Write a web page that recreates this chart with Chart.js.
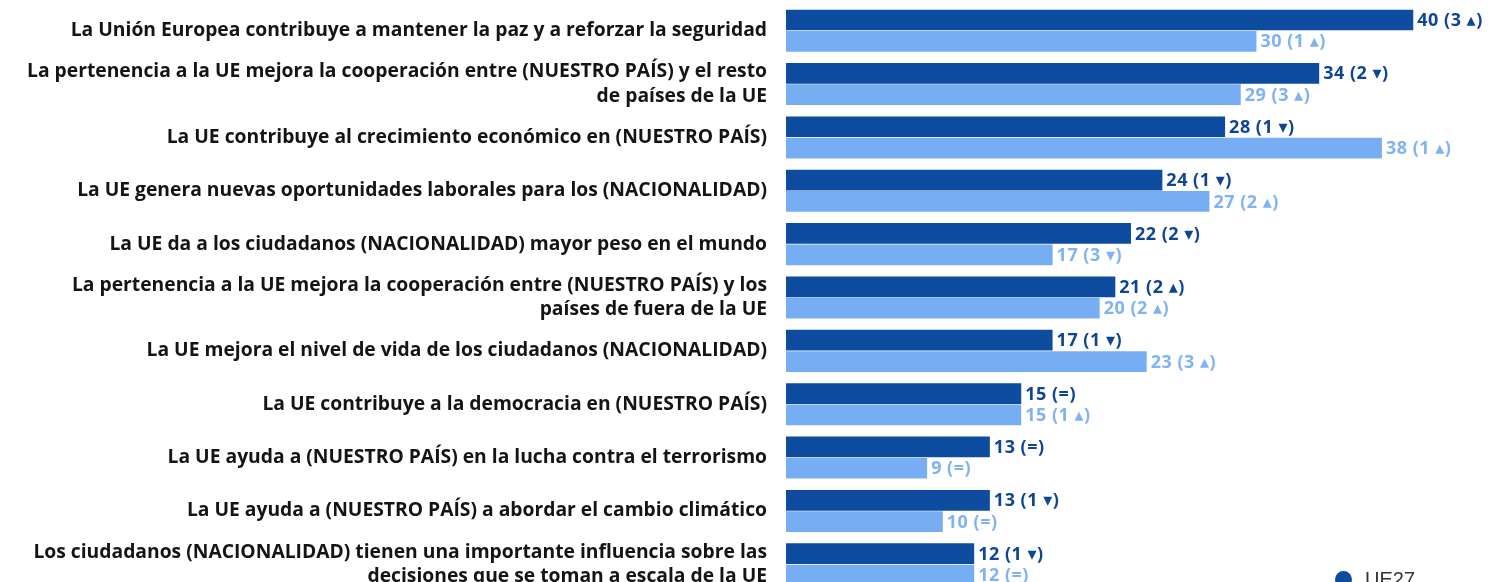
<!DOCTYPE html>
<html lang="es">
<head>
    <meta charset="UTF-8">
    <title>Beneficios de la pertenencia a la UE</title>
    <script src="https://cdn.jsdelivr.net/npm/chart.js"></script>
    <style>
        html, body {
            margin: 0;
            padding: 0;
            background: #fff;
            overflow: hidden;
        }
        .chart-container {
            position: relative;
            width: 1498px;
            height: 640px;
        }
        .legend {
            position: absolute;
            left: 1335px;
            top: 566px;
            font-family: "Liberation Sans", Arial, sans-serif;
            font-size: 20px;
            color: #333;
        }
        .legend-item {
            display: flex;
            align-items: center;
            height: 26px;
        }
        .legend-dot {
            width: 17px;
            height: 17px;
            border-radius: 50%;
            margin-right: 13px;
        }
    </style>
</head>
<body>
    <div class="chart-container">
        <canvas id="chart"></canvas>
        <div class="legend" id="legend"></div>
    </div>

    <script>
        const categories = [
            'La Unión Europea contribuye a mantener la paz y a reforzar la seguridad',
            ['La pertenencia a la UE mejora la cooperación entre (NUESTRO PAÍS) y el resto', 'de países de la UE'],
            'La UE contribuye al crecimiento económico en (NUESTRO PAÍS)',
            'La UE genera nuevas oportunidades laborales para los (NACIONALIDAD)',
            'La UE da a los ciudadanos (NACIONALIDAD) mayor peso en el mundo',
            ['La pertenencia a la UE mejora la cooperación entre (NUESTRO PAÍS) y los', 'países de fuera de la UE'],
            'La UE mejora el nivel de vida de los ciudadanos (NACIONALIDAD)',
            'La UE contribuye a la democracia en (NUESTRO PAÍS)',
            'La UE ayuda a (NUESTRO PAÍS) en la lucha contra el terrorismo',
            'La UE ayuda a (NUESTRO PAÍS) a abordar el cambio climático',
            ['Los ciudadanos (NACIONALIDAD) tienen una importante influencia sobre las', 'decisiones que se toman a escala de la UE']
        ];

        const seriesNames = ['UE27', 'España'];
        const ue27Values = [40, 34, 28, 24, 22, 21, 17, 15, 13, 13, 12];
        const ue27Changes = ['3 ▴', '2 ▾', '1 ▾', '1 ▾', '2 ▾', '2 ▴', '1 ▾', '=', '=', '1 ▾', '1 ▾'];
        const esValues = [30, 29, 38, 27, 17, 20, 23, 15, 9, 10, 12];
        const esChanges = ['1 ▴', '3 ▴', '1 ▴', '2 ▴', '3 ▾', '2 ▴', '3 ▴', '1 ▴', '=', '=', '='];

        const barColors = ['#0d4c9f', '#77aef3'];
        const labelColors = ['#0f4592', '#80b3f2'];

        // value + change labels at the end of each bar
        const valueLabels = {
            id: 'valueLabels',
            afterDatasetsDraw(chart) {
                const ctx = chart.ctx;
                const changes = [ue27Changes, esChanges];
                ctx.save();
                ctx.font = 'bold 18px "Open Sans", "DejaVu Sans", sans-serif';
                ctx.letterSpacing = '0.5px';
                ctx.textBaseline = 'middle';
                ctx.textAlign = 'left';
                chart.data.datasets.forEach((ds, i) => {
                    const meta = chart.getDatasetMeta(i);
                    ctx.fillStyle = labelColors[i];
                    meta.data.forEach((bar, j) => {
                        const text = ds.data[j] + ' (' + changes[i][j] + ')';
                        ctx.fillText(text, bar.x + 4, bar.y + 1);
                    });
                });
                ctx.restore();
            }
        };

        new Chart(document.getElementById('chart'), {
            type: 'bar',
            data: {
                labels: categories,
                datasets: [
                    {
                        label: seriesNames[0],
                        data: ue27Values,
                        backgroundColor: barColors[0]
                    },
                    {
                        label: seriesNames[1],
                        data: esValues,
                        backgroundColor: barColors[1]
                    }
                ]
            },
            options: {
                indexAxis: 'y',
                responsive: true,
                maintainAspectRatio: false,
                animation: false,
                datasets: {
                    bar: {
                        categoryPercentage: 0.8,
                        barPercentage: 0.97,
                        borderWidth: 0
                    }
                },
                layout: {
                    padding: { top: 4, right: 22, bottom: 49, left: 0 }
                },
                plugins: {
                    legend: { display: false },
                    tooltip: { enabled: false }
                },
                scales: {
                    x: {
                        display: false,
                        min: 0,
                        max: 44
                    },
                    y: {
                        afterFit(scale) {
                            scale.width = 786;
                            scale.paddingTop = 0;
                            scale.paddingBottom = 0;
                        },
                        grid: { display: false, drawTicks: false },
                        border: { display: false },
                        ticks: {
                            padding: 19,
                            color: '#141414',
                            font: {
                                family: '"Open Sans", Arial, sans-serif',
                                size: 19.3,
                                weight: 'bold',
                                lineHeight: 1.25
                            }
                        }
                    }
                }
            },
            plugins: [valueLabels]
        });

        // legend drawn below the last bars
        const legendDiv = document.getElementById('legend');
        seriesNames.forEach((name, i) => {
            legendDiv.innerHTML += `
                <div class="legend-item">
                    <span class="legend-dot" style="background:${barColors[i]}"></span>${name}
                </div>`;
        });
    </script>
</body>
</html>
